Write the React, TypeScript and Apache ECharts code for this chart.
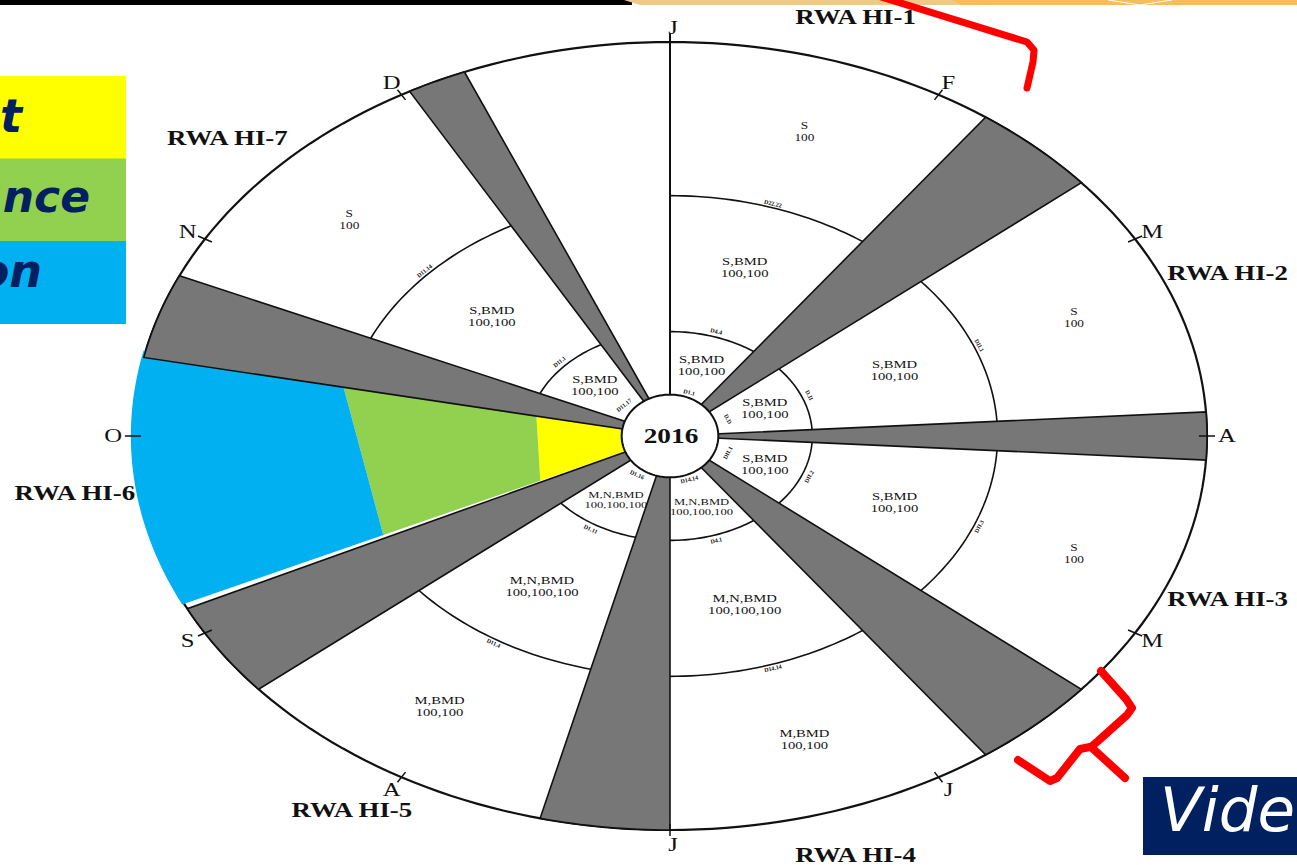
import React, { useEffect, useRef } from 'react';
import * as echarts from 'echarts';

// ---- data ----
const months = ['J', 'F', 'M', 'A', 'M', 'J', 'J', 'A', 'S', 'O', 'N', 'D'];
const monthAngles = [0, 30, 60, 90, 120, 150, 180, 210, 240, 270, 300, 330];
const sectorNames = ['RWA HI-1', 'RWA HI-2', 'RWA HI-3', 'RWA HI-4', 'RWA HI-5', 'RWA HI-6', 'RWA HI-7'];
const sectorStart = [0, 50, 93.5, 144, 194, 244, 294];
const sectorEnd = [36, 86.5, 130, 180, 230, 281, 331];
const gapStart = [36, 86.5, 130, 180, 230, 281.5, 331];
const gapEnd = [50, 93.5, 144, 194, 244, 294, 337.5];
const ringRadii = [0.09, 0.265, 0.61, 1];
const innerLabels = ['S,BMD\n100,100', 'S,BMD\n100,100', 'S,BMD\n100,100', 'M,N,BMD\n100,100,100', 'M,N,BMD\n100,100,100', '', 'S,BMD\n100,100'];
const middleLabels = ['S,BMD\n100,100', 'S,BMD\n100,100', 'S,BMD\n100,100', 'M,N,BMD\n100,100,100', 'M,N,BMD\n100,100,100', '', 'S,BMD\n100,100'];
const outerLabels = ['S\n100', 'S\n100', 'S\n100', 'M,BMD\n100,100', 'M,BMD\n100,100', '', 'S\n100'];
const arcTags = [
  ['D1.1', 'D4.4', 'D22.22'],
  ['D.D', 'D.II', 'DII.1'],
  ['DII.1', 'DII.2', 'DII.3'],
  ['D14.14', 'D4.1', 'D14.14'],
  ['D1.16', 'D1.11', 'D11.4'],
  ['', '', ''],
  ['D11.17', 'D11.1', 'D11.14'],
];
const highlightSector = 5;
const highlightColors = ['#ffff00', '#92d050', '#00b0f0'];
const highlightEdgeLow = [0.09, 0.267, 0.59, 1];
const highlightEdgeHigh = [0.09, 0.255, 0.625, 1];
const yearLabel = '2016';
const legendTexts = ['t', 'nce', 'on'];
const legendColors = ['#ffff00', '#92d050', '#00b0f0'];
const videoText = 'Vide';

// ---- helpers ----
const rad = (d: number) => (d * Math.PI) / 180;
const pt = (api: any, r: number, deg: number) => api.coord([r * Math.sin(rad(deg)), r * Math.cos(rad(deg))]);
const arcPts = (api: any, r: number, a0: number, a1: number, n = 48) => {
  const out: number[][] = [];
  for (let i = 0; i <= n; i++) out.push(pt(api, r, a0 + ((a1 - a0) * i) / n));
  return out;
};
const serif = '"Liberation Serif", "DejaVu Serif", serif';
const idx = (n: number) => Array.from({ length: n }, () => [0, 0]);
const layer = (n: number, z: number, renderItem: any) => ({
  type: 'custom',
  coordinateSystem: 'cartesian2d',
  data: idx(n),
  z,
  silent: true,
  clip: false,
  renderItem,
});
const stretchedText = (p: number[], text: string, font: string, sx: number, lh: number, extra: any = {}) => ({
  type: 'text',
  x: p[0],
  y: p[1],
  scaleX: sx,
  ...extra,
  style: { text, x: 0, y: 0, fill: '#111', font, align: 'center', verticalAlign: 'middle', lineHeight: lh },
});

export default function App() {
  const ref = useRef<HTMLDivElement>(null);
  useEffect(() => {
    const chart = echarts.init(ref.current!, null, { renderer: 'svg' });
    const series: any[] = [
      // outer ellipse
      layer(1, 1, (_p: any, api: any) => ({
        type: 'polygon',
        shape: { points: arcPts(api, 1, 0, 360, 240) },
        style: { fill: '#fff', stroke: '#111', lineWidth: 2.2 },
      })),
      // highlighted sector bands
      layer(3, 2, (p: any, api: any) => {
        const k = p.dataIndex;
        const a0 = sectorStart[highlightSector] + 0.8;
        const a1 = sectorEnd[highlightSector] + 1.5;
        const inL = highlightEdgeLow[k];
        const inH = highlightEdgeHigh[k];
        const outL = highlightEdgeLow[k + 1];
        const outH = highlightEdgeHigh[k + 1];
        const pts =
          k < 2
            ? [pt(api, inL, a0), pt(api, outL, a0), pt(api, outH, a1), pt(api, inH, a1)]
            : [pt(api, inL, a0), ...arcPts(api, 1.004, a0, a1), pt(api, inH, a1)];
        return { type: 'polygon', shape: { points: pts }, style: { fill: highlightColors[k] } };
      }),
      // gray wedges
      layer(gapStart.length, 3, (p: any, api: any) => {
        const i = p.dataIndex;
        return {
          type: 'polygon',
          shape: { points: [pt(api, 0, 0), ...arcPts(api, 1, gapStart[i], gapEnd[i], 16)] },
          style: { fill: '#777777', stroke: '#111', lineWidth: 1.6 },
        };
      }),
      // ring arcs
      layer(sectorNames.length, 4, (p: any, api: any) => {
        const i = p.dataIndex;
        if (i === highlightSector) return { type: 'group', children: [] };
        return {
          type: 'group',
          children: [1, 2].map((k) => ({
            type: 'polyline',
            shape: { points: arcPts(api, ringRadii[k], sectorStart[i], sectorEnd[i], 30) },
            style: { fill: 'none', stroke: '#111', lineWidth: 1.6 },
          })),
        };
      }),
      // spoke at J (top)
      layer(1, 5, (_p: any, api: any) => ({
        type: 'line',
        shape: (() => {
          const a = pt(api, 0, 0);
          const b = pt(api, 1.02, monthAngles[0]);
          return { x1: a[0], y1: a[1], x2: b[0], y2: b[1] };
        })(),
        style: { stroke: '#111', lineWidth: 2 },
      })),
      // month ticks + labels
      layer(months.length, 6, (p: any, api: any) => {
        const i = p.dataIndex;
        const a = pt(api, 0.985, monthAngles[i]);
        const b = pt(api, 1.015, monthAngles[i]);
        const l = pt(api, 1.037, monthAngles[i]);
        return {
          type: 'group',
          children: [
            { type: 'line', shape: { x1: a[0], y1: a[1], x2: b[0], y2: b[1] }, style: { stroke: '#111', lineWidth: 1.5 } },
            stretchedText([l[0] + (i === 0 || i === 6 ? 3 : 0), l[1]], months[i], `19px ${serif}`, 1.3, 20),
          ],
        };
      }),
      // center ellipse + year
      layer(1, 7, (_p: any, api: any) => {
        const pts: number[][] = [];
        for (let j = 0; j <= 120; j++) {
          const t = rad((360 * j) / 120);
          pts.push(api.coord([0.09 * Math.sin(t), 0.105 * Math.cos(t)]));
        }
        const c = pt(api, 0, 0);
        return {
          type: 'group',
          children: [
            { type: 'polygon', shape: { points: pts }, style: { fill: '#fff', stroke: '#111', lineWidth: 2 } },
            stretchedText([c[0] + 1, c[1]], yearLabel, `bold 21px ${serif}`, 1.3, 22),
          ],
        };
      }),
      // sector labels
      layer(sectorNames.length, 8, (p: any, api: any) => {
        const i = p.dataIndex;
        const mid = (sectorStart[i] + sectorEnd[i]) / 2;
        const kids: any[] = [];
        const title = pt(api, 1.118, mid);
        kids.push(stretchedText(title, sectorNames[i], `bold 21px ${serif}`, 1.28, 22));
        const texts = [innerLabels[i], middleLabels[i], outerLabels[i]];
        const radii = [0.19, 0.45, 0.81];
        texts.forEach((t, k) => {
          if (!t) return;
          const q = pt(api, radii[k], mid);
          const small = k === 0 && t.startsWith('M,N');
          kids.push(stretchedText(q, t, `${small ? 9 : k === 2 && t === 'S\n100' ? 10 : 11}px ${serif}`, small ? 1.4 : 1.33, small ? 10 : 12));
        });
        const tagR = [0.116, 0.279, 0.62];
        arcTags[i].forEach((t, k) => {
          if (!t) return;
          const q = pt(api, tagR[k], mid);
          const q1 = pt(api, tagR[k], mid - 1);
          const q2 = pt(api, tagR[k], mid + 1);
          let phi = Math.atan2(q2[1] - q1[1], q2[0] - q1[0]);
          if (phi > Math.PI / 2) phi -= Math.PI;
          if (phi < -Math.PI / 2) phi += Math.PI;
          kids.push({
            type: 'text',
            x: q[0],
            y: q[1],
            rotation: -phi,
            style: { text: t, x: 0, y: 0, fill: '#111', font: `bold 6px ${serif}`, align: 'center', verticalAlign: 'middle' },
          });
        });
        return { type: 'group', children: kids };
      }),
    ];

    const navy = '#002060';
    const legendGraphics: any[] = [];
    legendColors.forEach((c, i) => {
      legendGraphics.push({ type: 'rect', shape: { x: 0, y: 76 + i * 82.5, width: 126, height: 83 }, style: { fill: c }, z: 50 });
    });
    const legendRight = [22, 90, 42];
    const legendBase = [139, 218, 294];
    const legendSize = [46, 44, 46];
    legendTexts.forEach((t, i) => {
      legendGraphics.push({
        type: 'text',
        z: 51,
        style: {
          text: t,
          x: legendRight[i],
          y: legendBase[i],
          fill: navy,
          font: `italic bold ${legendSize[i]}px "DejaVu Sans", Verdana, sans-serif`,
          textAlign: 'right',
          textVerticalAlign: 'bottom',
          align: 'right',
          verticalAlign: 'bottom',
        },
      });
    });

    const option: any = {
      animation: false,
      backgroundColor: '#fff',
      grid: { left: 133, right: 90, top: 42, bottom: 35 },
      xAxis: { type: 'value', min: -1, max: 1, show: false },
      yAxis: { type: 'value', min: -1, max: 1, show: false },
      series,
      graphic: [
        // top bar
        { type: 'rect', shape: { x: 0, y: 0, width: 632, height: 5 }, style: { fill: '#000' }, z: 60 },
        { type: 'polygon', shape: { points: [[624, 0], [1297, 0], [1297, 5], [640, 5]] }, style: { fill: '#efc98b' }, z: 60 },
        { type: 'polygon', shape: { points: [[952, 0], [1297, 0], [1297, 5], [962, 5]] }, style: { fill: '#f5be5c' }, z: 60 },
        { type: 'polyline', shape: { points: [[1108, 0], [1140, 5], [1172, 0]] }, style: { stroke: '#fff', lineWidth: 1, fill: 'none' }, z: 61 },
        ...legendGraphics,
        // video box
        { type: 'rect', shape: { x: 1143, y: 777, width: 160, height: 78 }, style: { fill: navy }, z: 50 },
        {
          type: 'text',
          z: 51,
          style: {
            text: videoText,
            x: 1160,
            y: 840,
            fill: '#fff',
            font: 'italic 61px "DejaVu Sans", Verdana, sans-serif',
            textAlign: 'left',
            textVerticalAlign: 'bottom',
            align: 'left',
            verticalAlign: 'bottom',
          },
        },
        // red annotations
        {
          type: 'polyline',
          z: 70,
          shape: { points: [[878, -4], [1027, 42], [1034, 50], [1033, 62], [1027, 88]] },
          style: { stroke: '#ff0000', lineWidth: 7, fill: 'none', lineCap: 'round', lineJoin: 'round' },
        },
        {
          type: 'polyline',
          z: 70,
          shape: { points: [[1101, 671], [1126, 699], [1132, 708], [1127, 715], [1098, 741], [1091, 747], [1125, 778]] },
          style: { stroke: '#ff0000', lineWidth: 8, fill: 'none', lineCap: 'round', lineJoin: 'round' },
        },
        {
          type: 'polyline',
          z: 70,
          shape: { points: [[1090, 747], [1080, 749], [1057, 778], [1050, 781], [1018, 760]] },
          style: { stroke: '#ff0000', lineWidth: 8, fill: 'none', lineCap: 'round', lineJoin: 'round' },
        },
      ],
    };
    chart.setOption(option);
    return () => chart.dispose();
  }, []);
  return <div ref={ref} style={{ position: 'fixed', left: 0, top: 0, width: 1297, height: 865, background: '#fff' }} />;
}
